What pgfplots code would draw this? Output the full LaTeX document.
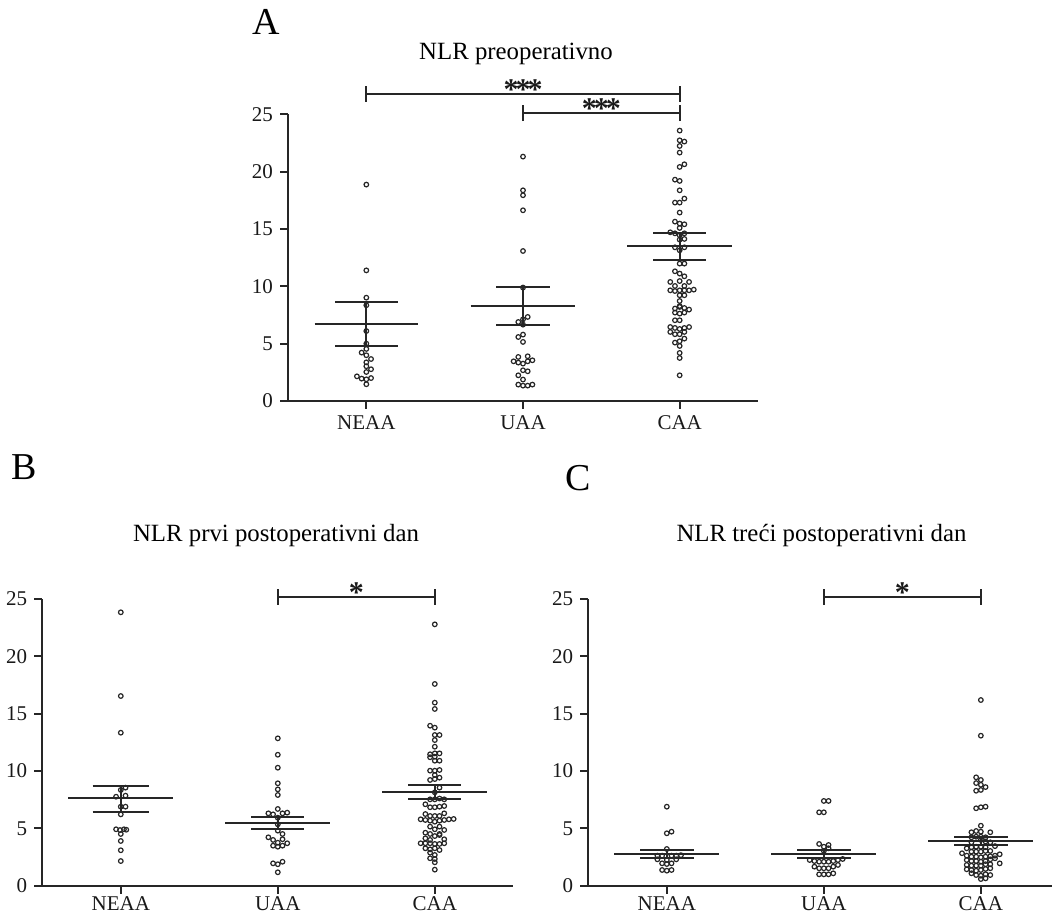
\documentclass[border=0pt]{standalone}
\usepackage{pgfplots}
\pgfplotsset{compat=1.18}
\usepackage{fontspec}
\setmainfont{Liberation Serif}
\newcommand{\st}{\fontsize{15}{17}\selectfont\bfseries}
\tikzset{sig/.style={anchor=base, font=\st, inner sep=0pt, text=black!90}}
\pgfplotsset{
  panel/.style={
    scale only axis, xmin=0.5, xmax=3.5, ymin=0, ymax=25,
    axis lines=left, axis line style={-, line width=1pt, black!85},
    xtick={1,2,3}, xticklabels={NEAA,UAA,CAA},
    ytick={0,5,10,15,20,25},
    tick align=outside, major tick length=4pt,
    tick style={line width=1pt, black!85},
    ticklabel style={font=\fontsize{10.5}{12}\selectfont, text=black!90},
    /pgf/number format/assume math mode=true,
    clip=false, anchor=south west,
  },
  pts/.style={only marks, mark=o, mark size=1.15pt, black!85, mark options={line width=0.6pt}},
  ml/.style={black!85, line width=1pt, forget plot, mark=none},
}
\begin{document}
\begin{tikzpicture}
\useasboundingbox (0,0) rectangle (526.5pt,457.5pt);
% ---------------- Panel A ----------------
\begin{axis}[panel, at={(144pt,257pt)}, width=235pt, height=143.35pt]
\addplot[pts] coordinates {
(1,18.87) (1,11.39) (1,9.01) (1,8.35) (1,6.1) (1,5.0) (1,4.54) (0.97,4.22) (1,3.99)
(1.03,3.66) (1,3.37) (1,3.03) (1.03,2.77) (1,2.53) (0.94,2.15) (0.97,1.95) (1,1.89)
(1.03,2.0) (1,1.46)};
\addplot[pts] coordinates {
(2,21.31) (2,18.37) (2,17.94) (2,16.63) (2,13.08) (2,9.89) (1.97,6.89) (2,7.12) (2.03,7.33)
(2,6.66) (1.97,5.58) (2,5.79) (2,5.15) (1.97,3.84) (2.03,3.9) (1.94,3.46) (1.97,3.35)
(2,3.26) (2.03,3.46) (2.06,3.55) (2,2.68) (2.03,2.59) (1.97,2.24) (2,1.87) (1.97,1.43)
(2,1.34) (2.03,1.34) (2.06,1.43)};
\addplot[pts] coordinates {
(3,23.58) (3,22.73) (3.03,22.62) (3,22.24) (3,21.66) (3,20.41) (3.03,20.64) (2.97,19.3)
(3,19.19) (3,18.37) (2.97,17.3) (3,17.3) (3.03,17.65) (3,16.43) (2.97,15.64) (3,15.47)
(3.03,15.41) (3,15.09) (2.94,14.71) (2.97,14.62) (3.03,14.62) (3,14.45) (3,14.07)
(3.03,14.13) (2.97,13.4) (3.03,13.4) (3,13.14) (3,11.98) (3.03,11.98) (2.97,11.31)
(3,11.11) (3.03,10.87) (2.94,10.38) (3,10.46) (3.06,10.38) (2.97,10.03) (3.03,10.03)
(2.94,9.65) (2.97,9.59) (3,9.65) (3.03,9.65) (3.06,9.65) (3.09,9.71) (3,9.22) (3.03,9.22)
(3,8.72) (3,8.28) (2.97,8.06) (3,8.2) (3.03,8.11) (3.06,7.97) (2.97,7.71) (3,7.62)
(3.03,7.71) (2.97,7.04) (3,7.04) (2.94,6.45) (2.97,6.37) (3,6.28) (3.03,6.37) (3.06,6.45)
(2.94,6.02) (2.97,5.82) (3,5.82) (3.03,6.02) (3.03,5.44) (2.97,5.09) (3,5.21) (3,4.80)
(3,4.19) (3,3.75) (3,2.24)};
% mean and SEM
\addplot[ml] coordinates {(0.67,6.75) (1.33,6.75)};
\addplot[ml] coordinates {(0.8,8.6) (1.2,8.6)};
\addplot[ml] coordinates {(0.8,4.8) (1.2,4.8)};
\addplot[ml] coordinates {(1,4.8) (1,8.6)};
\addplot[ml] coordinates {(1.665,8.28) (2.335,8.28)};
\addplot[ml] coordinates {(1.83,9.94) (2.17,9.94)};
\addplot[ml] coordinates {(1.83,6.66) (2.17,6.66)};
\addplot[ml] coordinates {(2,6.66) (2,9.94)};
\addplot[ml] coordinates {(2.665,13.49) (3.335,13.49)};
\addplot[ml] coordinates {(2.83,14.62) (3.17,14.62)};
\addplot[ml] coordinates {(2.83,12.3) (3.17,12.3)};
\addplot[ml] coordinates {(3,12.3) (3,14.62)};
% significance
\addplot[ml] coordinates {(1,26.8) (3,26.8)};
\addplot[ml] coordinates {(1,26.1) (1,27.5)};
\addplot[ml] coordinates {(3,26.1) (3,27.5)};
\addplot[ml] coordinates {(2,25.1) (3,25.1)};
\addplot[ml] coordinates {(2,24.4) (2,25.8)};
\addplot[ml] coordinates {(3,24.4) (3,25.8)};
\node[sig] at (axis cs:2,26.3) {*\kern-1.5pt*\kern-1.5pt*};
\node[sig] at (axis cs:2.5,24.6) {*\kern-1.5pt*\kern-1.5pt*};
\end{axis}
% ---------------- Panel B ----------------
\begin{axis}[panel, at={(21.15pt,14.65pt)}, width=235.5pt, height=143.35pt,
  xticklabel style={yshift=2pt}]
\addplot[pts] coordinates {
(1,23.84) (1,16.54) (1,13.34) (1.03,8.55) (1,8.35) (0.97,7.76) (1.03,7.85) (1,6.89)
(1.03,6.89) (1,6.22) (0.97,4.92) (0.995,4.85) (1.02,4.92) (1.035,4.88) (1,4.51) (1,3.9)
(1,3.09) (1,2.15)};
\addplot[pts] coordinates {
(2,12.85) (2,11.42) (2,10.29) (2,8.93) (2,8.4) (2,7.91) (2,6.69) (1.94,6.31) (1.97,6.22)
(2.03,6.31) (2.06,6.37) (2,5.93) (2,5.35) (2,4.8) (1.94,4.22) (2.03,4.51) (1.97,3.99)
(2.03,4.05) (2,3.75) (2.06,3.70) (1.97,3.49) (2,3.40) (2.03,3.49) (1.97,1.95) (2,1.87)
(2.03,2.09) (2,1.17)};
\addplot[pts] coordinates {
(3,22.79) (3,17.59) (3,15.96) (3,15.41) (2.97,13.95) (3,13.78) (3,13.14) (3.03,13.14)
(3,12.7) (3,12.12) (2.97,11.46) (3,11.54) (3.03,11.54) (2.97,11.2) (3,11.25) (3,10.9)
(3.03,10.9) (2.97,10.03) (3,10.03) (3.03,10.09) (3,9.65) (3.03,9.42) (2.97,9.22) (3,9.3)
(3.03,8.55) (3,8.14) (2.97,7.53) (3,7.53) (3.03,7.6) (3.06,7.53) (2.94,7.1) (2.97,6.84)
(3,6.84) (3.03,6.89) (3.06,6.95) (2.94,6.25) (2.97,6.08) (3,6.08) (3.03,6.08) (3.06,6.31)
(2.91,5.79) (2.94,5.73) (2.97,5.67) (3,5.58) (3.03,5.67) (3.06,5.73) (3.09,5.79)
(3.12,5.82) (2.97,5.15) (3.03,5.15) (3,4.92) (2.94,4.62) (2.97,4.51) (3.03,4.51)
(3.06,4.86) (3,4.33) (3.03,4.42) (2.94,4.13) (2.97,3.99) (3.06,4.05) (2.91,3.70)
(2.94,3.70) (2.97,3.70) (3,3.64) (3.03,3.64) (3.06,3.70) (2.94,3.26) (2.97,3.17)
(3,3.26) (3.03,3.11) (2.97,2.88) (3,2.68) (2.97,2.39) (3,2.33) (3,2.04) (3,1.40)};
\addplot[ml] coordinates {(0.665,7.62) (1.335,7.62)};
\addplot[ml] coordinates {(0.82,8.72) (1.18,8.72)};
\addplot[ml] coordinates {(0.82,6.45) (1.18,6.45)};
\addplot[ml] coordinates {(1,6.45) (1,8.72)};
\addplot[ml] coordinates {(1.665,5.47) (2.335,5.47)};
\addplot[ml] coordinates {(1.83,5.99) (2.17,5.99)};
\addplot[ml] coordinates {(1.83,4.94) (2.17,4.94)};
\addplot[ml] coordinates {(2,4.94) (2,5.99)};
\addplot[ml] coordinates {(2.665,8.14) (3.335,8.14)};
\addplot[ml] coordinates {(2.83,8.81) (3.17,8.81)};
\addplot[ml] coordinates {(2.83,7.53) (3.17,7.53)};
\addplot[ml] coordinates {(3,7.53) (3,8.81)};
\addplot[ml] coordinates {(2,25.2) (3,25.2)};
\addplot[ml] coordinates {(2,24.5) (2,25.85)};
\addplot[ml] coordinates {(3,24.5) (3,25.85)};
\node[sig] at (axis cs:2.5,24.7) {*};
\end{axis}
% ---------------- Panel C ----------------
\begin{axis}[panel, xmax=3.45, at={(294.15pt,14.65pt)}, width=231.6pt, height=143.35pt,
  xticklabel style={yshift=2pt}]
\addplot[pts] coordinates {
(1,6.89) (1,4.57) (1.03,4.71) (1,3.2) (0.94,2.62) (0.97,2.62) (1.03,2.62) (1.06,2.62)
(1.09,2.66) (0.94,2.3) (1,2.24) (1.06,2.3) (0.97,1.95) (1,1.89) (1.03,1.95) (0.97,1.37)
(1,1.31) (1.03,1.37)};
\addplot[pts] coordinates {
(2,7.39) (2.03,7.39) (1.97,6.40) (2,6.40) (1.97,3.64) (2,3.4) (2.03,3.55) (2.03,3.26)
(2,3.03) (1.91,2.24) (1.94,2.15) (1.97,2.09) (2,2.09) (2.03,2.09) (2.06,2.15) (2.09,2.24)
(2.12,2.33) (1.94,1.66) (1.97,1.52) (2,1.52) (2.03,1.52) (2.06,1.66) (2.09,1.81)
(1.97,0.99) (2,0.99) (2.03,0.99) (2.06,1.08)};
\addplot[pts] coordinates {
(3,16.19) (3,13.08) (2.97,9.45) (3,9.22) (2.97,8.95) (3,8.8) (3.03,8.6) (2.97,8.28)
(3,8.35) (2.97,6.75) (3,6.84) (3.03,6.89) (3,5.23) (2.94,4.66) (2.97,4.77) (3,4.71)
(3.06,4.66) (2.94,4.22) (2.97,4.27) (3,4.27) (3.03,4.22) (2.94,3.78) (3,3.99) (3.03,3.85)
(3.06,3.78) (2.91,3.26) (2.94,3.35) (2.97,3.4) (3,3.4) (3.03,3.35) (3.09,3.45) (2.94,2.97)
(2.97,2.97) (3,2.97) (3.03,3.03) (3.06,3.03) (2.88,2.83) (2.91,2.62) (2.94,2.53)
(2.97,2.53) (3,2.48) (3.03,2.53) (3.06,2.57) (3.09,2.62) (3.12,2.74) (2.91,2.24)
(2.94,2.15) (2.97,2.15) (3,2.09) (3.03,2.15) (3.06,2.3) (3.09,2.39) (2.91,1.81)
(2.94,1.75) (2.97,1.75) (3,1.75) (3.03,1.87) (3.06,1.87) (3.12,1.95) (2.91,1.43)
(2.94,1.37) (2.97,1.31) (3,1.37) (3.03,1.46) (3.06,1.52) (2.94,1.08) (2.97,0.93) (3,0.87)
(3.03,1.0) (3.06,0.93) (3,0.58) (3.03,0.64)};
\addplot[ml] coordinates {(0.665,2.76) (1.335,2.76)};
\addplot[ml] coordinates {(0.83,3.11) (1.17,3.11)};
\addplot[ml] coordinates {(0.83,2.44) (1.17,2.44)};
\addplot[ml] coordinates {(1,2.44) (1,3.11)};
\addplot[ml] coordinates {(1.665,2.76) (2.335,2.76)};
\addplot[ml] coordinates {(1.83,3.11) (2.17,3.11)};
\addplot[ml] coordinates {(1.83,2.44) (2.17,2.44)};
\addplot[ml] coordinates {(2,2.44) (2,3.11)};
\addplot[ml] coordinates {(2.665,3.9) (3.335,3.9)};
\addplot[ml] coordinates {(2.83,4.27) (3.17,4.27)};
\addplot[ml] coordinates {(2.83,3.55) (3.17,3.55)};
\addplot[ml] coordinates {(3,3.55) (3,4.27)};
\addplot[ml] coordinates {(2,25.2) (3,25.2)};
\addplot[ml] coordinates {(2,24.5) (2,25.85)};
\addplot[ml] coordinates {(3,24.5) (3,25.85)};
\node[sig] at (axis cs:2.5,24.7) {*};
\end{axis}
% ---------------- labels and titles ----------------
\node[anchor=base, font=\fontsize{19}{22}\selectfont, inner sep=0pt] at (133pt,440pt) {A};
\node[anchor=base, font=\fontsize{12.4}{14}\selectfont, inner sep=0pt] at (258pt,427.5pt) {NLR preoperativno};
\node[anchor=base, font=\fontsize{19}{22}\selectfont, inner sep=0pt] at (12.25pt,217.5pt) {B};
\node[anchor=base, font=\fontsize{12.4}{14}\selectfont, inner sep=0pt] at (138pt,186.7pt) {NLR prvi postoperativni dan};
\node[anchor=base, font=\fontsize{19}{22}\selectfont, inner sep=0pt] at (289.2pt,212pt) {C};
\node[anchor=base, font=\fontsize{12.4}{14}\selectfont, inner sep=0pt] at (410.75pt,186.7pt) {NLR treći postoperativni dan};
\end{tikzpicture}
\end{document}
